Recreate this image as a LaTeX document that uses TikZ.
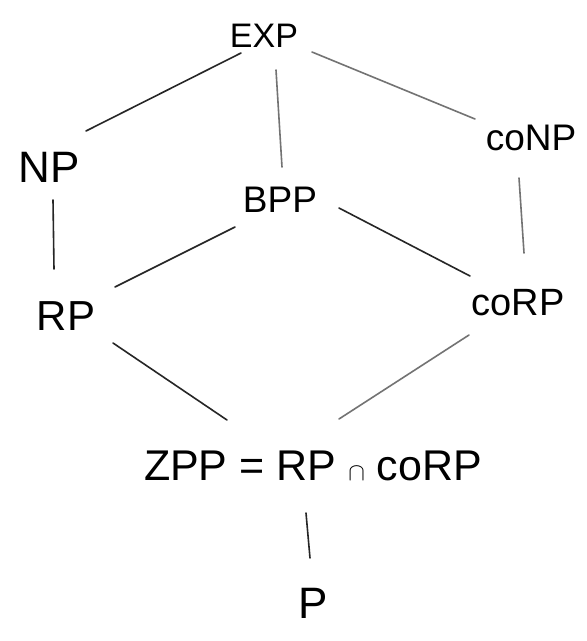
\documentclass[tikz,border=0pt]{standalone}
\usepackage{fontspec}
\setmainfont{Liberation Sans}
\begin{document}
\begin{tikzpicture}[x=1pt,y=-1pt,
  cls/.style={anchor=base,inner sep=0pt,font=\fontsize{40}{44}\selectfont},
  link/.style={line width=1.6pt,draw=black!85,line cap=round},
  faint/.style={line width=1.6pt,draw=black!55,line cap=round}]
  \useasboundingbox[fill=white] (0,0) rectangle (587,641);

  % complexity classes, placed by their baselines
  \node[cls,font=\fontsize{34}{38}\selectfont] (EXP) at (264,47) {EXP};
  \node[cls,font=\fontsize{44}{48}\selectfont] (NP) at (49,182) {NP};
  \node[cls,font=\fontsize{37}{40}\selectfont] (coNP) at (531,150) {coNP};
  \node[cls,font=\fontsize{37}{40}\selectfont] (BPP) at (280,212) {BPP};
  \node[cls,font=\fontsize{42}{46}\selectfont] (RP) at (66,330) {RP};
  \node[cls,font=\fontsize{38}{42}\selectfont] (coRP) at (518,315) {coRP};
  \node[cls,font=\fontsize{43}{46}\selectfont] (ZPP) at (313,480) {ZPP = RP $\cap$ coRP};
  \node[cls,font=\fontsize{44}{48}\selectfont] (P) at (313,618) {P};

  % inclusion edges
  \draw[link]  ([shift={(37,-51)}]NP.base)   -- ([shift={(-23,6)}]EXP.base);
  \draw[faint] ([shift={(12,23)}]EXP.base)   -- ([shift={(2,-45)}]BPP.base);
  \draw[faint] ([shift={(48,5)}]EXP.base)    -- ([shift={(-56,-31)}]coNP.base);
  \draw[link]  ([shift={(4,18)}]NP.base)     -- ([shift={(-12,-61)}]RP.base);
  \draw[faint] ([shift={(-12,28)}]coNP.base) -- ([shift={(6,-62)}]coRP.base);
  \draw[link]  ([shift={(-45,15)}]BPP.base)  -- ([shift={(49,-43)}]RP.base);
  \draw[link]  ([shift={(59,-4)}]BPP.base)   -- ([shift={(-48,-39)}]coRP.base);
  \draw[link]  ([shift={(47,13)}]RP.base)    -- ([shift={(-86,-60)}]ZPP.base);
  \draw[faint] ([shift={(-49,20)}]coRP.base) -- ([shift={(26,-61)}]ZPP.base);
  \draw[link]  ([shift={(-7,33)}]ZPP.base)   -- ([shift={(-3,-60)}]P.base);
\end{tikzpicture}
\end{document}
